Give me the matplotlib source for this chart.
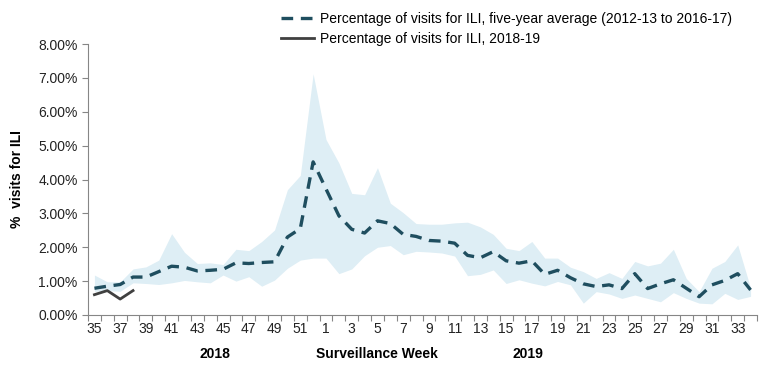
import numpy as np
import matplotlib
matplotlib.use("Agg")
import matplotlib.pyplot as plt
from matplotlib.ticker import FuncFormatter

plt.rcParams['font.family'] = ['Liberation Sans', 'DejaVu Sans']

# Surveillance weeks, 2018-19 season
weeks = list(range(35, 53)) + list(range(1, 35))

# Five-year average (2012-13 to 2016-17), % of visits for ILI
avg_pct = [0.79, 0.85, 0.90, 1.12, 1.12, 1.28, 1.44, 1.41, 1.30, 1.32, 1.35, 1.54, 1.52, 1.55,
           1.57, 2.30, 2.55, 4.52, 3.72, 2.93, 2.53, 2.42, 2.78, 2.70, 2.38, 2.32, 2.20, 2.18,
           2.12, 1.76, 1.69, 1.87, 1.60, 1.53, 1.60, 1.20, 1.32, 1.10, 0.92, 0.84, 0.89, 0.78,
           1.22, 0.78, 0.92, 1.04, 0.79, 0.54, 0.89, 1.02, 1.22, 0.74]

# Range of the five seasons (shaded band)
band_high = [1.18, 0.98, 0.98, 1.36, 1.42, 1.62, 2.40, 1.85, 1.52, 1.54, 1.49, 1.94, 1.90, 2.17,
             2.51, 3.70, 4.12, 7.12, 5.18, 4.49, 3.59, 3.55, 4.35, 3.30, 3.02, 2.70, 2.68, 2.68,
             2.72, 2.74, 2.60, 2.38, 1.97, 1.90, 2.17, 1.68, 1.68, 1.41, 1.28, 1.08, 1.25, 1.08,
             1.58, 1.45, 1.53, 1.94, 1.08, 0.69, 1.38, 1.58, 2.07, 0.80]
band_low = [0.70, 0.72, 0.70, 0.95, 0.93, 0.90, 0.95, 1.02, 0.98, 0.95, 1.18, 1.00, 1.13, 0.85,
            1.03, 1.38, 1.62, 1.68, 1.68, 1.22, 1.36, 1.75, 2.00, 2.05, 1.78, 1.88, 1.86, 1.83,
            1.74, 1.16, 1.20, 1.33, 0.93, 1.04, 0.94, 0.86, 0.99, 0.89, 0.35, 0.69, 0.62, 0.49,
            0.59, 0.49, 0.39, 0.66, 0.49, 0.35, 0.33, 0.64, 0.46, 0.55]

# Current season so far
current_pct = [0.60, 0.72, 0.47, 0.72]

x = np.arange(len(weeks))

fig = plt.figure(figsize=(7.77, 3.68), dpi=100)
ax = fig.add_axes([88 / 777, 1 - 315 / 368, (757 - 88) / 777, (315 - 44) / 368])

ax.fill_between(x, band_low, band_high, color='#deeef5', linewidth=0)
ax.plot(x, avg_pct, color='#1f4e5f', linewidth=2.4, linestyle=(0, (3.5, 2.3)),
        label='Percentage of visits for ILI, five-year average (2012-13 to 2016-17)')
ax.plot(x[:len(current_pct)], current_pct, color='#404040', linewidth=2.0,
        label='Percentage of visits for ILI, 2018-19')

# Axes styling
ax.set_xlim(-0.5, len(weeks) - 0.5)
ax.set_ylim(0, 8)
ax.set_yticks(np.arange(0, 9, 1))
ax.yaxis.set_major_formatter(FuncFormatter(lambda v, p: f"{v:.2f}%"))
ax.set_xticks(np.arange(len(weeks) + 1) - 0.5)
ax.set_xticklabels([])
ax.set_xticks(x[::2], minor=True)
ax.set_xticklabels([str(w) for w in weeks[::2]], minor=True)
ax.tick_params(axis='x', which='major', length=4, color='#868686')
ax.tick_params(axis='x', which='minor', length=0, pad=5, labelsize=10, labelcolor='#222222')
ax.tick_params(axis='y', length=4, color='#868686', labelsize=10, labelcolor='#222222')
for s in ['top', 'right']:
    ax.spines[s].set_visible(False)
for s in ['left', 'bottom']:
    ax.spines[s].set_color('#868686')

fig.text(17 / 777, 1 - 179 / 368, '%  visits for ILI', rotation=90, ha='center', va='center',
         fontsize=10, fontweight='bold')
fig.text(215 / 777, 1 - 354 / 368, '2018', ha='center', va='center', fontsize=10, fontweight='bold')
fig.text(377 / 777, 1 - 354 / 368, 'Surveillance Week', ha='center', va='center', fontsize=10,
         fontweight='bold')
fig.text(528 / 777, 1 - 354 / 368, '2019', ha='center', va='center', fontsize=10, fontweight='bold')

fig.legend(loc='upper left', bbox_to_anchor=(281 / 777, 1 - 12 / 368), frameon=False, fontsize=10,
           handlelength=2.4, handletextpad=0.4, labelspacing=0.42, borderpad=0, borderaxespad=0)

fig.savefig('out.png', dpi=100)
